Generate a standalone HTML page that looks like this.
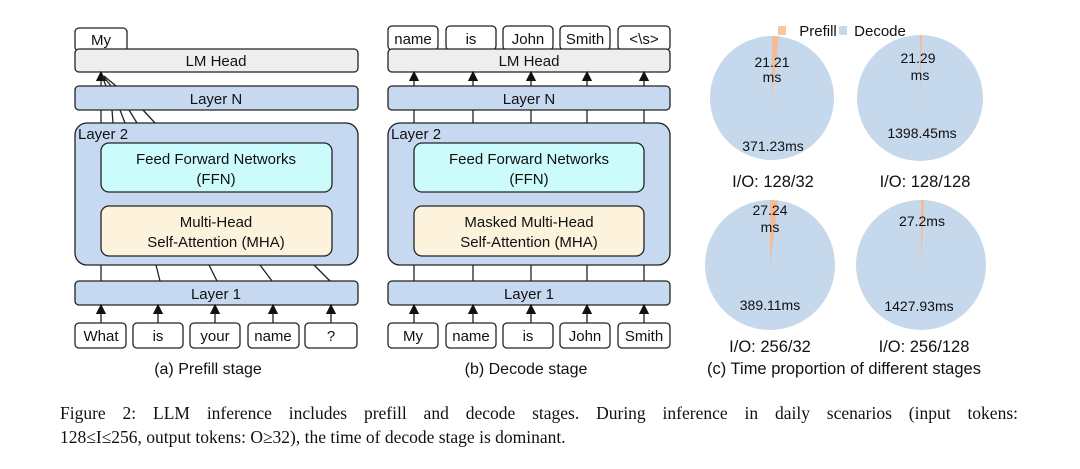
<!DOCTYPE html>
<html><head><meta charset="utf-8"><style>
body{margin:0;background:#fff;width:1080px;height:469px;overflow:hidden}
svg text{font-family:"Liberation Sans",sans-serif;fill:#111}
.cap{position:absolute;left:60px;width:958px;font-family:"Liberation Serif",serif;font-size:17.5px;color:#111;text-align:justify;text-align-last:justify;line-height:24px}
</style></head><body>
<svg width="1080" height="469" style="position:absolute;left:0;top:0">
<defs><marker id="ar" markerWidth="8" markerHeight="8" refX="4" refY="4" orient="auto"><path d="M0,0 L8,4 L0,8 z" fill="#111"/></marker></defs>
<g stroke="#222" stroke-width="1.3">
<rect x="75" y="28" width="52" height="23" rx="4" fill="#fff"/>
<rect x="75" y="49" width="283" height="23" rx="4" fill="#eeeeee"/>
<rect x="75" y="86" width="283" height="24" rx="4" fill="#c6d9f1"/>
<rect x="75" y="123" width="283" height="142" rx="12" fill="#c6d9f1"/>
<rect x="101" y="143" width="231" height="49" rx="8" fill="#ccfbfb"/>
<rect x="101" y="206" width="231" height="50" rx="8" fill="#fdf3dd"/>
<rect x="75" y="281" width="283" height="24" rx="4" fill="#c6d9f1"/>
<line x1="101" y1="86" x2="101" y2="76" marker-end="url(#ar)"/>
<line x1="106" y1="86" x2="102" y2="76"/><line x1="111" y1="86" x2="103" y2="76"/><line x1="116" y1="86" x2="104" y2="76"/>
<line x1="101" y1="123" x2="101" y2="110"/><line x1="113" y1="123" x2="112" y2="110"/><line x1="125" y1="123" x2="120" y2="110"/><line x1="137" y1="123" x2="129" y2="110"/><line x1="155" y1="123" x2="143" y2="110"/>
<line x1="101" y1="281" x2="101" y2="265"/><line x1="160" y1="281" x2="156" y2="265"/><line x1="217" y1="281" x2="209" y2="265"/><line x1="272" y1="281" x2="260" y2="265"/><line x1="330" y1="281" x2="314" y2="265"/>
<g fill="#fff">
<rect x="75" y="323" width="51" height="25" rx="4"/><rect x="133" y="323" width="50" height="25" rx="4"/><rect x="190" y="323" width="50" height="25" rx="4"/><rect x="248" y="323" width="51" height="25" rx="4"/><rect x="305" y="323" width="52" height="25" rx="4"/>
</g>
<line x1="101" y1="323" x2="101" y2="309" marker-end="url(#ar)"/><line x1="158" y1="323" x2="158" y2="309" marker-end="url(#ar)"/><line x1="215" y1="323" x2="215" y2="309" marker-end="url(#ar)"/><line x1="273" y1="323" x2="273" y2="309" marker-end="url(#ar)"/><line x1="331" y1="323" x2="331" y2="309" marker-end="url(#ar)"/>
<g fill="#fff">
<rect x="388" y="26" width="50" height="24" rx="4"/><rect x="446" y="26" width="50" height="24" rx="4"/><rect x="503" y="26" width="50" height="24" rx="4"/><rect x="560" y="26" width="50" height="24" rx="4"/><rect x="618" y="26" width="52" height="24" rx="4"/>
</g>
<rect x="388" y="49" width="282" height="23" rx="4" fill="#eeeeee"/>
<rect x="388" y="86" width="282" height="24" rx="4" fill="#c6d9f1"/>
<rect x="388" y="123" width="282" height="142" rx="12" fill="#c6d9f1"/>
<rect x="414" y="143" width="230" height="49" rx="8" fill="#ccfbfb"/>
<rect x="414" y="206" width="230" height="50" rx="8" fill="#fdf3dd"/>
<rect x="388" y="281" width="282" height="24" rx="4" fill="#c6d9f1"/>
<g fill="#fff">
<rect x="388" y="323" width="50" height="25" rx="4"/><rect x="446" y="323" width="50" height="25" rx="4"/><rect x="503" y="323" width="50" height="25" rx="4"/><rect x="560" y="323" width="50" height="25" rx="4"/><rect x="618" y="323" width="52" height="25" rx="4"/>
</g>
<line x1="414" y1="86" x2="414" y2="76" marker-end="url(#ar)"/><line x1="473" y1="86" x2="473" y2="76" marker-end="url(#ar)"/><line x1="531" y1="86" x2="531" y2="76" marker-end="url(#ar)"/><line x1="587" y1="86" x2="587" y2="76" marker-end="url(#ar)"/><line x1="644" y1="86" x2="644" y2="76" marker-end="url(#ar)"/>
<line x1="414" y1="123" x2="414" y2="110"/><line x1="473" y1="123" x2="473" y2="110"/><line x1="531" y1="123" x2="531" y2="110"/><line x1="587" y1="123" x2="587" y2="110"/><line x1="644" y1="123" x2="644" y2="110"/>
<line x1="414" y1="281" x2="414" y2="265"/><line x1="473" y1="281" x2="473" y2="265"/><line x1="531" y1="281" x2="531" y2="265"/><line x1="587" y1="281" x2="587" y2="265"/><line x1="644" y1="281" x2="644" y2="265"/>
<line x1="414" y1="323" x2="414" y2="309" marker-end="url(#ar)"/><line x1="473" y1="323" x2="473" y2="309" marker-end="url(#ar)"/><line x1="531" y1="323" x2="531" y2="309" marker-end="url(#ar)"/><line x1="587" y1="323" x2="587" y2="309" marker-end="url(#ar)"/><line x1="644" y1="323" x2="644" y2="309" marker-end="url(#ar)"/>
</g>
<g font-size="15" text-anchor="middle">
<text x="101" y="45">My</text>
<text x="216" y="66">LM Head</text><text x="216" y="104">Layer N</text>
<text x="78" y="139" text-anchor="start">Layer 2</text>
<text x="216" y="164">Feed Forward Networks</text><text x="216" y="184">(FFN)</text>
<text x="216" y="227">Multi-Head</text><text x="216" y="247">Self-Attention (MHA)</text>
<text x="216" y="299">Layer 1</text>
<text x="101" y="341">What</text><text x="158" y="341">is</text><text x="215" y="341">your</text><text x="273" y="341">name</text><text x="331" y="341">?</text>
<text x="208" y="374" font-size="16">(a) Prefill stage</text>
<text x="413" y="44">name</text><text x="471" y="44">is</text><text x="528" y="44">John</text><text x="585" y="44">Smith</text><text x="644" y="44">&lt;\s&gt;</text>
<text x="529" y="66">LM Head</text><text x="529" y="104">Layer N</text>
<text x="391" y="139" text-anchor="start">Layer 2</text>
<text x="529" y="164">Feed Forward Networks</text><text x="529" y="184">(FFN)</text>
<text x="529" y="227">Masked Multi-Head</text><text x="529" y="247">Self-Attention (MHA)</text>
<text x="529" y="299">Layer 1</text>
<text x="413" y="341">My</text><text x="471" y="341">name</text><text x="528" y="341">is</text><text x="585" y="341">John</text><text x="644" y="341">Smith</text>
<text x="526" y="374" font-size="16">(b) Decode stage</text>
</g>
<g fill="#c5d8ec">
<circle cx="772" cy="98" r="62"/><circle cx="920" cy="98" r="63"/>
<circle cx="770" cy="265" r="65"/><circle cx="921" cy="265" r="65"/>
</g>
<g fill="#f6bb94">
<path d="M772,98 L772,36 L779,36.5 Z"/><path d="M920,98 L920,35 L922,35 Z"/>
<path d="M770,265 L770,200 L778,200.5 Z"/><path d="M921,265 L921,200 L924,200 Z"/>
</g>
<rect x="778" y="26" width="8" height="9" fill="#f6c8a8"/><rect x="839" y="26" width="8" height="9" fill="#c5d8ec"/>
<g font-size="15" text-anchor="middle">
<text x="818" y="36">Prefill</text><text x="880" y="36">Decode</text>
</g>
<g font-size="14" text-anchor="middle">
<text x="772" y="67">21.21</text><text x="772" y="82">ms</text>
<text x="918" y="63">21.29</text><text x="920" y="80">ms</text>
<text x="773" y="151">371.23ms</text><text x="922" y="138">1398.45ms</text>
<text x="770" y="215">27.24</text><text x="770" y="232">ms</text>
<text x="922" y="226">27.2ms</text>
<text x="770" y="310">389.11ms</text><text x="919" y="311">1427.93ms</text>
</g>
<g font-size="16.5" text-anchor="middle">
<text x="773" y="187">I/O: 128/32</text><text x="925" y="187">I/O: 128/128</text>
<text x="770" y="352">I/O: 256/32</text><text x="924" y="352">I/O: 256/128</text>
<text x="844" y="374">(c) Time proportion of different stages</text>
</g>
</svg>
<div class="cap" style="top:401px">Figure 2: LLM inference includes prefill and decode stages. During inference in daily scenarios (input tokens:</div>
<div class="cap" style="top:425px;text-align-last:left">128≤I≤256, output tokens: O≥32), the time of decode stage is dominant.</div>
</body></html>
